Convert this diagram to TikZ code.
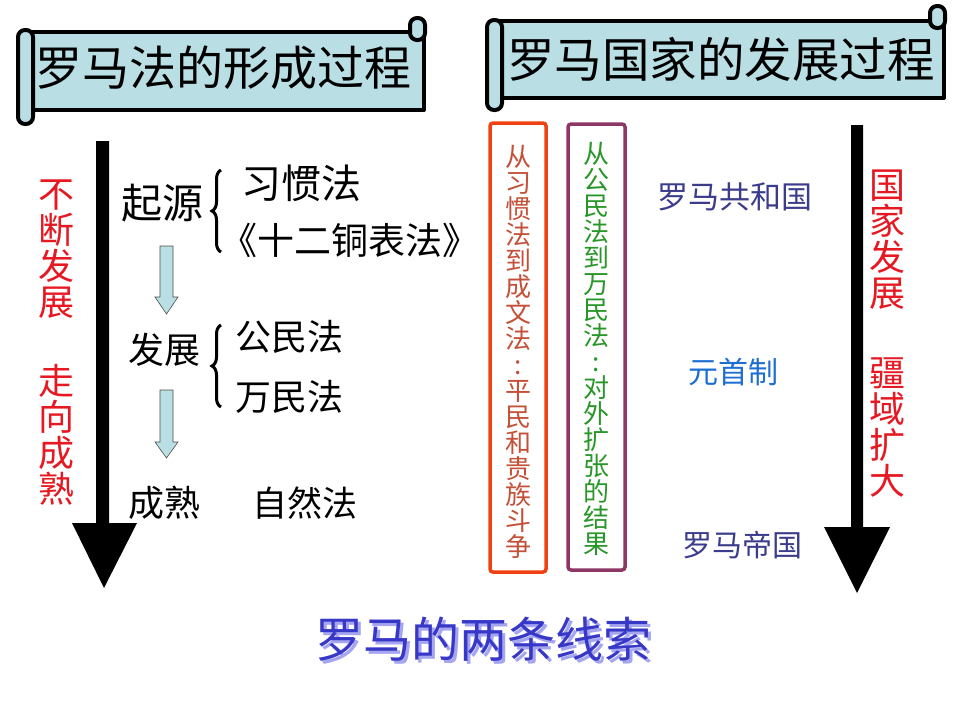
\documentclass[tikz,border=0pt]{standalone}
\usepackage{fontspec}
\newfontfamily\cjk{Noto Sans CJK SC}
\usetikzlibrary{decorations.pathreplacing}
\newcommand\fsz[1]{\fontsize{#1}{#1}\selectfont}
\definecolor{scrollblue}{RGB}{185,223,228}
\definecolor{redtxt}{RGB}{230,25,35}
\definecolor{boxred}{RGB}{240,65,20}
\definecolor{boxredtxt}{RGB}{195,80,55}
\definecolor{boxpurple}{RGB}{140,55,100}
\definecolor{greentxt}{RGB}{40,150,40}
\definecolor{slatetxt}{RGB}{60,60,140}
\definecolor{bluetxt}{RGB}{30,110,210}
\definecolor{titleblue}{RGB}{55,55,200}
\definecolor{titleshadow}{RGB}{165,165,240}
\tikzset{
  cn/.style={inner sep=0pt, outer sep=0pt},
  scrollline/.style={draw=black, line width=4pt, fill=scrollblue, line join=round},
  bigarrow/.style={fill=black},
  smallarrow/.style={fill=scrollblue, draw=black!70, line width=0.6pt},
  bracestyle/.style={draw=black, line width=3pt, decorate, decoration={brace, amplitude=9pt}},
  vbox/.style={line width=3.5pt, rounded corners=3pt},
}
\begin{document}
\begin{tikzpicture}[x=1pt,y=-1pt]
\useasboundingbox (0,0) rectangle (960,720);
\fill[white] (0,0) rectangle (960,720);

% scroll 1
\draw[scrollline] (27,32) rectangle (424,110);
\draw[scrollline, rounded corners=7pt] (410,18) rectangle (425,40);
\draw[scrollline, rounded corners=7pt] (18,30) rectangle (33,124);
\node[cn, font=\cjk\fsz{47}] (t1) at (223,68) {罗马法的形成过程};

% scroll 2
\draw[scrollline] (495,21) rectangle (944,98);
\draw[scrollline, rounded corners=7pt] (930,6) rectangle (945,28);
\draw[scrollline, rounded corners=7pt] (487,20) rectangle (502,110);
\node[cn, font=\cjk\fsz{47.5}] (t2) at (721,59) {罗马国家的发展过程};

% left big arrow
\path[bigarrow] (96,141) -- (109,141) -- (109,523) -- (137,523) -- (104,588) -- (72,523) -- (96,523) -- cycle;
% right big arrow
\path[bigarrow] (851,125) -- (863,125) -- (863,527) -- (890,527) -- (857,593) -- (824,527) -- (851,527) -- cycle;

% left red text
\node[cn, font=\cjk\fsz{36}, text=redtxt, align=center] (l1) at (56,249) {不\\断\\发\\展};
\node[cn, font=\cjk\fsz{36}, text=redtxt, align=center] (l2) at (56,435) {走\\向\\成\\熟};

% law formation
\node[cn, font=\cjk\fsz{41}] (qy) at (162,203) {起源};
\node[cn, font=\cjk\fsz{40}] (xgf) at (301,183) {习惯法};
\node[cn, font=\cjk\fsz{37}] (sr) at (350,240) {《十二铜表法》};
\draw[bracestyle] (221,252) -- (221,170);

\path[smallarrow] (160,246) -- (173,246) -- (173,297) -- (178,297) -- (166.5,314) -- (155,297) -- (160,297) -- cycle;

\node[cn, font=\cjk\fsz{36}] (fz) at (164,350) {发展};
\node[cn, font=\cjk\fsz{36}] (gmf) at (289,337) {公民法};
\node[cn, font=\cjk\fsz{36}] (wmf) at (289,397) {万民法};
\draw[bracestyle] (221,407) -- (221,325);

\path[smallarrow] (160,390) -- (173,390) -- (173,442) -- (178,442) -- (166.5,458) -- (155,442) -- (160,442) -- cycle;

\node[cn, font=\cjk\fsz{36}] (cs) at (164,503) {成熟};
\node[cn, font=\cjk\fsz{35}] (zrf) at (305,503) {自然法};

% boxes
\draw[vbox, draw=boxred] (490,123) rectangle (546,572);
\node[cn, font=\cjk\fsz{26}, text=boxredtxt, align=center] (b1) at (518.5,351.5)
  {从\\习\\惯\\法\\到\\成\\文\\法\\:\\平\\民\\和\\贵\\族\\斗\\争};
\draw[vbox, draw=boxpurple] (568,124) rectangle (625,570);
\node[cn, font=\cjk\fsz{26}, text=greentxt, align=center] (b2) at (596.5,348.5)
  {从\\公\\民\\法\\到\\万\\民\\法\\:\\对\\外\\扩\\张\\的\\结\\果};

% state development
\node[cn, font=\cjk\fsz{31}, text=slatetxt] (ghg) at (735,197) {罗马共和国};
\node[cn, font=\cjk\fsz{30}, text=bluetxt] (ysz) at (733,372) {元首制};
\node[cn, font=\cjk\fsz{30}, text=slatetxt] (dg) at (742,545) {罗马帝国};

\node[cn, font=\cjk\fsz{36}, text=redtxt, align=center] (r1) at (887,240) {国\\家\\发\\展};
\node[cn, font=\cjk\fsz{36}, text=redtxt, align=center] (r2) at (887,428) {疆\\域\\扩\\大};

% bottom title with shadow
\node[cn, font=\cjk\fsz{48}] (bt) at (483,641)
  {\rlap{\hspace{3pt}\raisebox{-3pt}{\color{titleshadow}罗马的两条线索}}\color{titleblue}罗马的两条线索};
\end{tikzpicture}
\end{document}
